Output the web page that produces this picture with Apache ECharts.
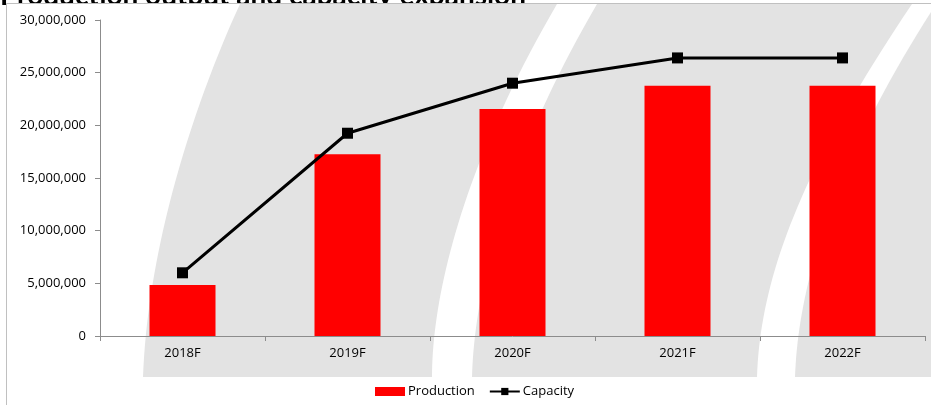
<!DOCTYPE html>
<html>
<head>
<meta charset="utf-8">
<script src="https://cdn.jsdelivr.net/npm/echarts@6/dist/echarts.min.js"></script>
<style>
html,body{margin:0;padding:0;background:#fff;}
#chart{width:931px;height:405px;}
</style>
</head>
<body>
<div id="chart"></div>
<script>
const categories = ['2018F', '2019F', '2020F', '2021F', '2022F'];
const production = [4840000, 17250000, 21550000, 23750000, 23750000];
const capacity = [6000000, 19250000, 24000000, 26400000, 26400000];
const titleText = 'Production output and capacity expansion';
const seriesNames = ['Production', 'Capacity'];

function fmt(v) {
  return String(v).replace(/\B(?=(\d{3})+(?!\d))/g, ',');
}

// sample a cubic bezier (decorative watermark outline)
function bez(p0, p1, p2, p3, n) {
  const pts = [];
  for (let i = 0; i <= n; i++) {
    const t = i / n, u = 1 - t;
    pts.push([
      u*u*u*p0[0] + 3*u*u*t*p1[0] + 3*u*t*t*p2[0] + t*t*t*p3[0],
      u*u*u*p0[1] + 3*u*u*t*p1[1] + 3*u*t*t*p2[1] + t*t*t*p3[1]
    ]);
  }
  return pts;
}

const FONT = '"Open Sans"';
const GRAY = '#e3e3e3';

const shapeA = bez([240, 4], [198, 95], [148, 240], [143, 377], 40)
  .concat(bez([432, 377], [432, 300], [460, 170], [557, 4], 40));
const shapeB = bez([597, 4], [500, 170], [474, 300], [472, 377], 40)
  .concat(bez([757, 377], [760, 280], [800, 170], [912, 4], 40));
const shapeC = bez([931, 12], [830, 170], [798, 290], [795, 377], 40)
  .concat([[931, 377]]);

const chart = echarts.init(document.getElementById('chart'), null, {renderer: 'canvas'});

chart.setOption({
  animation: false,
  backgroundColor: '#fff',
  textStyle: {fontFamily: FONT},
  graphic: [
    {type: 'text', left: 0, top: -18, z: -30,
      style: {text: titleText, font: 'bold 28px Lato', fill: '#000'}},
    {type: 'rect', shape: {x: 6.5, y: 3.5, width: 940, height: 420}, z: -20,
      style: {fill: '#fff', stroke: '#c0c0c0', lineWidth: 1}},
    {type: 'polygon', z: -10, shape: {points: shapeA}, style: {fill: GRAY}},
    {type: 'polygon', z: -10, shape: {points: shapeB}, style: {fill: GRAY}},
    {type: 'polygon', z: -10, shape: {points: shapeC}, style: {fill: GRAY}}
  ],
  grid: {left: 100, right: 6, top: 20, bottom: 69, containLabel: false},
  legend: {
    data: [{name: seriesNames[0], icon: 'rect'}, {name: seriesNames[1]}],
    left: 370, top: 380,
    itemWidth: 30, itemHeight: 9, itemGap: 14,
    textStyle: {fontFamily: FONT, fontSize: 13, color: '#000', padding: [0, 0, 0, -2]}
  },
  xAxis: {
    type: 'category',
    data: categories,
    boundaryGap: true,
    axisLine: {show: true, lineStyle: {color: '#8c8c8c', width: 1}},
    axisTick: {show: true, length: 5, alignWithLabel: false, lineStyle: {color: '#8c8c8c'}},
    axisLabel: {fontFamily: FONT, fontSize: 13, color: '#000', margin: 11},
    splitLine: {show: false}
  },
  yAxis: {
    type: 'value',
    min: 0, max: 30000000, interval: 5000000,
    axisLine: {show: true, lineStyle: {color: '#8c8c8c', width: 1}},
    axisTick: {show: true, length: 5, lineStyle: {color: '#8c8c8c'}},
    axisLabel: {fontFamily: FONT, fontSize: 13, color: '#000', margin: 14, formatter: fmt},
    splitLine: {show: false}
  },
  series: [
    {
      name: seriesNames[0], type: 'bar', data: production,
      barWidth: 66, itemStyle: {color: '#ff0000'}
    },
    {
      name: seriesNames[1], type: 'line', data: capacity,
      symbol: 'rect', symbolSize: 11, showSymbol: true,
      lineStyle: {color: '#000', width: 3},
      itemStyle: {color: '#000'}, z: 5
    }
  ]
});
</script>
</body>
</html>
